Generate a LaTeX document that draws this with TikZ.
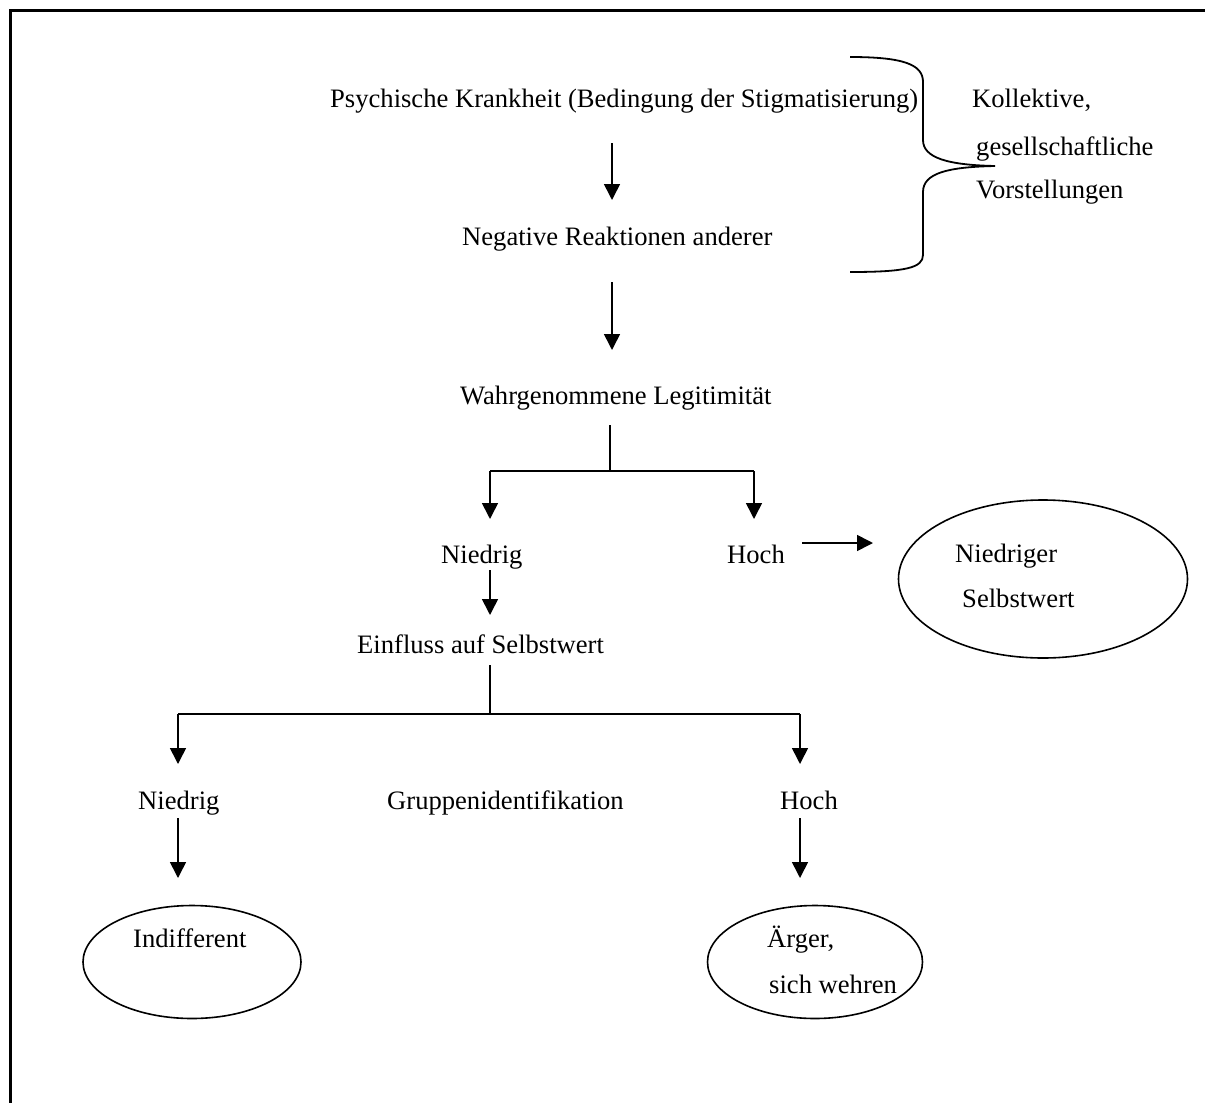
\documentclass[tikz,border=0pt]{standalone}
\usepackage{fontspec}
\setmainfont{Liberation Serif}
\usetikzlibrary{arrows.meta,shapes.geometric}
\begin{document}
\begin{tikzpicture}[x=1pt,y=-1pt,
  txt/.style={anchor=base west,inner sep=0pt,font=\fontsize{26.6}{30}\selectfont},
  link/.style={line width=1.6pt},
  arr/.style={link,-{Triangle[width=16pt,length=16pt]}},
  oval/.style={draw,ellipse,line width=1.6pt,inner sep=0pt}]
\useasboundingbox (0,0) rectangle (1205,1103);
% open frame (top and left edges)
\draw[line width=3pt] (10,1103) -- (10,10) -- (1205,10);

% texts
\node[txt] (psy) at (330,107) {Psychische Krankheit (Bedingung der Stigmatisierung)};
\node[txt] (neg) at (462,245) {Negative Reaktionen anderer};
\node[txt] (leg) at (460,404) {Wahrgenommene Legitimität};
\node[txt] (n1) at (441,563) {Niedrig};
\node[txt] (h1) at (727,563) {Hoch};
\node[txt] (ein) at (357,653) {Einfluss auf Selbstwert};
\node[txt] (n2) at (138,809) {Niedrig};
\node[txt] (grp) at (387,809) {Gruppenidentifikation};
\node[txt] (h2) at (780,809) {Hoch};
\node[txt] (kol1) at (972,107) {Kollektive,};
\node[txt] (kol2) at (976,155) {gesellschaftliche};
\node[txt] (kol3) at (976,198) {Vorstellungen};

% outcome ovals
\node[oval,minimum width=289pt,minimum height=158pt] (nsw) at (1043,579) {};
\node[txt] (nsw1) at (955,562) {Niedriger};
\node[txt] (nsw2) at (962,607) {Selbstwert};
\node[oval,minimum width=218pt,minimum height=113pt] (ind) at (192,962) {};
\node[txt] (ind1) at (133,947) {Indifferent};
\node[oval,minimum width=215pt,minimum height=113pt] (aer) at (815,962) {};
\node[txt] (aer1) at (767,947) {Ärger,};
\node[txt] (aer2) at (769,993) {sich wehren};

% brace around the first two levels
\draw[line width=1.8pt] (850,57) .. controls (905,57) and (923,65) .. (923,82)
  -- (923,140) .. controls (923,158) and (948,165) .. (995,166)
  .. controls (948,167) and (923,173) .. (923,192)
  -- (923,255) .. controls (923,268) and (905,272) .. (850,272);

% junction points
\coordinate (a1s) at (612,143); \coordinate (a1e) at (612,200);
\coordinate (a2s) at (612,282); \coordinate (a2e) at (612,350);
\coordinate (b1) at (610,425); \coordinate (b1j) at (610,471);
\coordinate (b1l) at (490,471); \coordinate (b1r) at (754,471);
\coordinate (b1lt) at (490,519); \coordinate (b1rt) at (754,519);
\coordinate (hs) at (802,543); \coordinate (he) at (873,543);
\coordinate (n1s) at (490,570); \coordinate (n1e) at (490,615);
\coordinate (b2) at (490,665); \coordinate (b2j) at (490,714);
\coordinate (b2l) at (178,714); \coordinate (b2r) at (800,714);
\coordinate (b2lt) at (178,764); \coordinate (b2rt) at (800,764);
\coordinate (l3s) at (178,818); \coordinate (l3e) at (178,878);
\coordinate (r3s) at (800,818); \coordinate (r3e) at (800,878);

% connectors
\draw[arr] (a1s) -- (a1e);
\draw[arr] (a2s) -- (a2e);
\draw[link] (b1) -- (b1j);
\draw[link] (b1l) -- (b1r);
\draw[arr] (b1l) -- (b1lt);
\draw[arr] (b1r) -- (b1rt);
\draw[arr] (hs) -- (he);
\draw[arr] (n1s) -- (n1e);
\draw[link] (b2) -- (b2j);
\draw[link] (b2l) -- (b2r);
\draw[arr] (b2l) -- (b2lt);
\draw[arr] (b2r) -- (b2rt);
\draw[arr] (l3s) -- (l3e);
\draw[arr] (r3s) -- (r3e);
\end{tikzpicture}
\end{document}
